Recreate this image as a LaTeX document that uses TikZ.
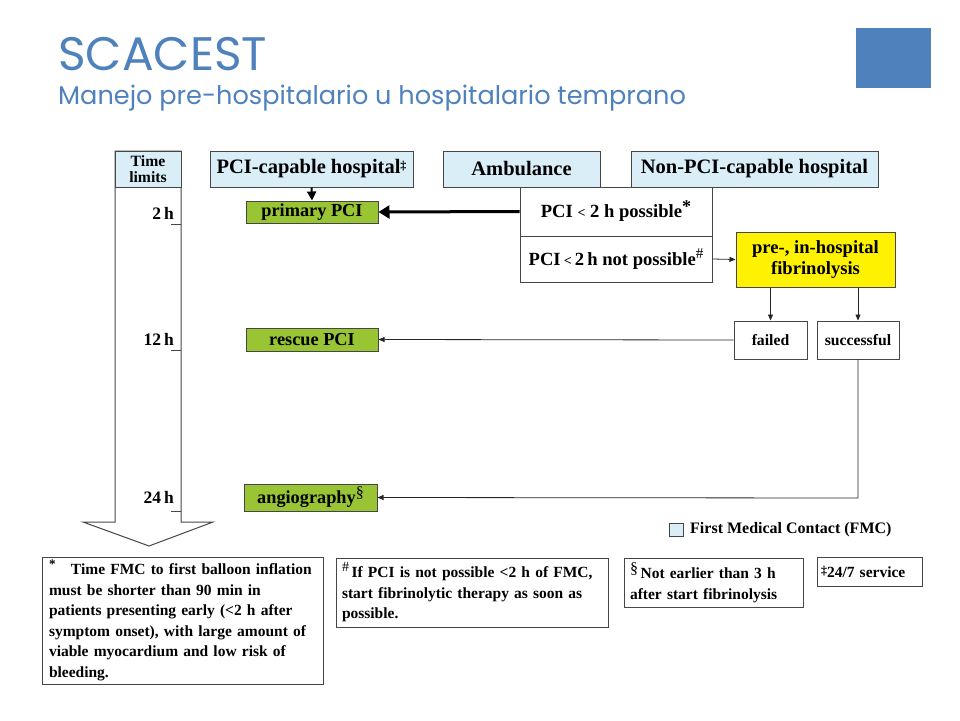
\documentclass[tikz,border=0pt]{standalone}
\usepackage{fontspec}
\setmainfont{Liberation Serif}
\newfontfamily\titlefont{Poppins}
\usetikzlibrary{arrows.meta}
\definecolor{titleblue}{RGB}{79,129,189}
\definecolor{hdrblue}{RGB}{218,238,248}
\definecolor{boxgreen}{RGB}{153,196,52}
\definecolor{boxyellow}{RGB}{255,242,0}
\definecolor{edgegray}{RGB}{70,70,70}
\tikzset{
  bx/.style={draw=edgegray, line width=1pt, inner sep=0pt, font=\bfseries, align=center},
  hdr/.style={bx, fill=hdrblue, font=\fontsize{20.5}{24}\selectfont\bfseries},
  grn/.style={bx, fill=boxgreen, font=\fontsize{18.3}{21}\selectfont\bfseries},
  ylw/.style={bx, fill=boxyellow, font=\fontsize{18.6}{21}\selectfont\bfseries},
  wht/.style={bx, fill=white, font=\fontsize{18.6}{22}\selectfont\bfseries},
  sml/.style={bx, fill=white, font=\fontsize{15.7}{18}\selectfont\bfseries},
  note/.style={bx, fill=white, align=left, font=\fontsize{15.5}{20.5}\selectfont\bfseries},
  tlab/.style={inner sep=0pt, anchor=base east, font=\fontsize{17.5}{20}\selectfont\bfseries},
  conn/.style={draw=black!85, line width=0.8pt, -{Triangle[length=6pt,width=5pt]}},
}
\begin{document}
\begin{tikzpicture}[x=1pt,y=-1pt]
\useasboundingbox (0,0) rectangle (960,720);
% title
\node[anchor=base west, inner sep=0pt, text=titleblue, font=\titlefont\fontsize{47}{50}\selectfont] (title) at (58,70) {SCACEST};
\node[anchor=base west, inner sep=0pt, text=titleblue, font=\titlefont\fontsize{25.6}{28}\selectfont] (subtitle) at (58,104) {Manejo pre-hospitalario u hospitalario temprano};
\node[fill=titleblue, minimum width=75pt, minimum height=60pt, inner sep=0pt] (sq) at (893.5,58) {};
% time arrow
\draw[edgegray, line width=1pt, fill=white] (115,151) -- (115,522) -- (83,522) -- (149,546) -- (213,522) -- (181,522) -- (181,151) -- cycle;
\node[hdr, minimum width=66pt, minimum height=36pt, font=\fontsize{15.7}{16.5}\selectfont\bfseries] (tl) at (148,169) {Time\\limits};
\coordinate (t2a) at (171,224); \coordinate (t2b) at (181,224);
\coordinate (t12a) at (171,350); \coordinate (t12b) at (181,350);
\coordinate (t24a) at (171,511); \coordinate (t24b) at (181,511);
\draw[edgegray, line width=0.8pt] (t2a) -- (t2b) (t12a) -- (t12b) (t24a) -- (t24b);
\node[tlab] (l2) at (174,219) {2\,h};
\node[tlab] (l12) at (174,345) {12\,h};
\node[tlab] (l24) at (174,503) {24\,h};
% headers
\node[hdr, minimum width=203pt, minimum height=36pt] (pcih) at (311.5,169) {PCI-capable hospital\raisebox{4pt}{\fontsize{12}{12}\selectfont ‡}};
\node[hdr, minimum width=157pt, minimum height=36pt] (amb) at (521.5,169) {Ambulance};
\node[hdr, minimum width=247pt, minimum height=36pt] (npci) at (754.5,169) {Non-PCI-capable hospital};
% flow boxes
\node[grn, minimum width=132pt, minimum height=22pt] (prim) at (312,212) {primary PCI};
\node[wht, minimum width=192pt, minimum height=49pt] (p2) at (616,211.5) {PCI {\fontsize{14}{14}\selectfont<} 2 h possible\raisebox{5pt}{\fontsize{18}{18}\selectfont *}};
\node[wht, minimum width=192pt, minimum height=46pt] (np2) at (616,259) {PCI\,{\fontsize{14}{14}\selectfont<}\,2\,h not possible\raisebox{7pt}{\fontsize{15}{15}\selectfont\mdseries\#}};
\node[ylw, minimum width=159pt, minimum height=55pt] (fib) at (815.5,259.5) {pre-, in-hospital\\fibrinolysis};
\node[sml, minimum width=73pt, minimum height=38pt] (failed) at (770.5,340) {failed};
\node[sml, minimum width=82pt, minimum height=38pt] (succ) at (858,340) {successful};
\node[grn, minimum width=132pt, minimum height=23pt] (rescue) at (312,339.5) {rescue PCI};
\node[grn, minimum width=133pt, minimum height=27pt] (angio) at (310.5,497.5) {angiography\raisebox{6pt}{\fontsize{16}{16}\selectfont\mdseries§}};
% connectors
\draw[black, line width=2pt, -{Triangle[length=9pt,width=9pt]}] (pcih.south) -- (prim.north);
\draw[black, line width=3pt, -{Triangle[length=11pt,width=13pt]}] (p2.west) -- (prim.east);
\draw[conn] (np2.east) -- (fib.west);
\draw[conn] (fib.south -| failed.north) -- (failed.north);
\draw[conn] (fib.south -| succ.north) -- (succ.north);
\draw[conn] (failed.west) -- (rescue.east);
\coordinate (bend) at (858,498);
\draw[conn] (succ.south) -- (bend) -- (angio.east);
% legend
\node[draw=edgegray, fill=hdrblue, line width=0.8pt, minimum width=14pt, minimum height=13pt, inner sep=0pt] (lsq) at (676,529.5) {};
\node[anchor=west, inner sep=0pt, font=\fontsize{16}{18}\selectfont\bfseries] (ltxt) at (690,529.5) {First Medical Contact (FMC)};
% footnotes
\node[note, minimum width=281pt, minimum height=127pt, text width=267pt] (fn1) at (182.5,620.5) {\raisebox{6pt}{\fontsize{13}{13}\selectfont *}\ \ \ Time FMC to first balloon inflation\\must be shorter than 90 min in\\patients presenting early (<2 h after\\symptom onset), with large amount of\\viable myocardium and low risk of\\bleeding.};
\node[note, minimum width=272pt, minimum height=69pt, text width=260pt] (fn2) at (472,592.5) {\raisebox{6pt}{\fontsize{14}{14}\selectfont\mdseries\#}\,If PCI is not possible <2 h of FMC,\\start fibrinolytic therapy as soon as\\possible.};
\node[note, minimum width=179pt, minimum height=49pt, text width=167pt] (fn3) at (713.5,582.5) {\raisebox{5pt}{\fontsize{16}{16}\selectfont\mdseries§}\,Not earlier than 3 h\\after start fibrinolysis};
\node[note, minimum width=105pt, minimum height=29pt, text width=97pt] (fn4) at (869.5,571.5) {\raisebox{3pt}{\fontsize{12}{12}\selectfont ‡}24/7 service};
\end{tikzpicture}
\end{document}
